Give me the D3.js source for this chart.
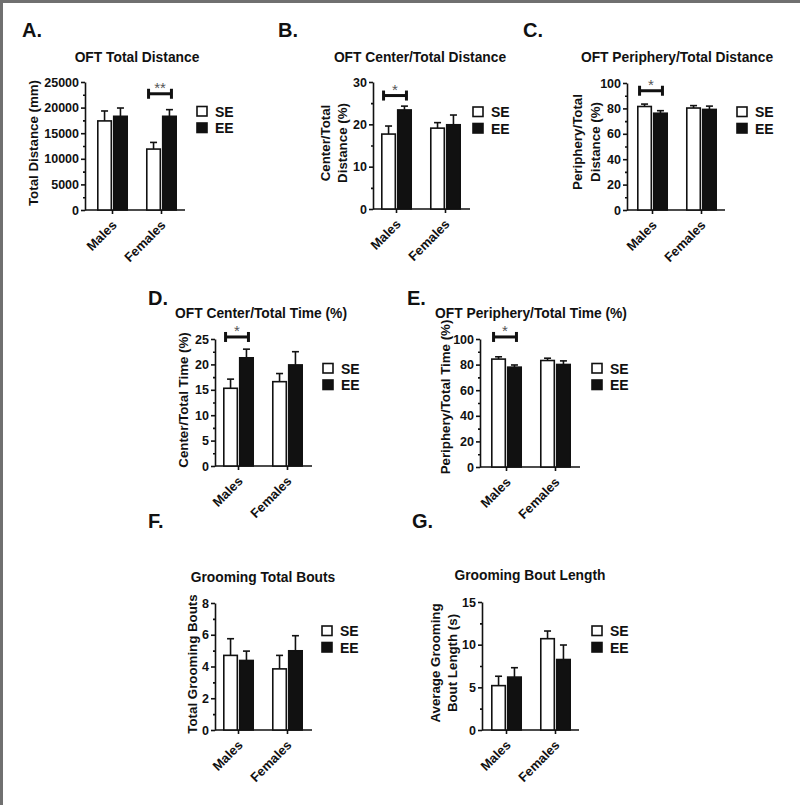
<!DOCTYPE html>
<html><head><meta charset="utf-8">
<script src="https://cdn.jsdelivr.net/npm/d3@7"></script>
<style>
html,body{margin:0;padding:0;background:#fff;}
text{font-family:"Liberation Sans",Arial,sans-serif;}
</style></head>
<body>
<script>
// ---------- DATA ----------
const categories = ["Males", "Females"];
const groups = ["SE", "EE"];

// A. OFT Total Distance (mm)
const distSE = [17400, 11900];
const distSEerr = [1940, 1300];
const distEE = [18300, 18300];
const distEEerr = [1620, 1300];
const distTicks = [0, 5000, 10000, 15000, 20000, 25000];

// B. OFT Center/Total Distance (%)
const cenDistSE = [17.7, 19.1];
const cenDistSEerr = [1.9, 1.3];
const cenDistEE = [23.4, 19.9];
const cenDistEEerr = [0.9, 2.3];
const cenDistTicks = [0, 10, 20, 30];

// C. OFT Periphery/Total Distance (%)
const perDistSE = [81.5, 80.3];
const perDistSEerr = [1.9, 1.9];
const perDistEE = [76.2, 79.2];
const perDistEEerr = [2.0, 2.6];
const perDistTicks = [0, 20, 40, 60, 80, 100];

// D. OFT Center/Total Time (%)
const cenTimeSE = [15.3, 16.6];
const cenTimeSEerr = [1.8, 1.6];
const cenTimeEE = [21.3, 19.9];
const cenTimeEEerr = [1.7, 2.6];
const cenTimeTicks = [0, 5, 10, 15, 20, 25];

// E. OFT Periphery/Total Time (%)
const perTimeSE = [84.3, 83.2];
const perTimeSEerr = [1.8, 1.8];
const perTimeEE = [78.0, 80.1];
const perTimeEEerr = [1.7, 2.8];
const perTimeTicks = [0, 20, 40, 60, 80, 100];

// F. Grooming Total Bouts
const boutsSE = [4.7, 3.85];
const boutsSEerr = [1.05, 0.85];
const boutsEE = [4.38, 4.99];
const boutsEEerr = [0.59, 0.95];
const boutsTicks = [0, 2, 4, 6, 8];

// G. Grooming Bout Length (s)
const lenSE = [5.2, 10.7];
const lenSEerr = [1.1, 0.9];
const lenEE = [6.2, 8.26];
const lenEEerr = [1.1, 1.7];
const lenTicks = [0, 5, 10, 15];

// significance brackets: [category index, level in data units, label]
const sigA = [1, 22700, "**"];
const sigB = [0, 26.8, "*"];
const sigC = [0, 93.9, "*"];
const sigD = [0, 25.4, "*"];
const sigE = [0, 101.6, "*"];

// ---------- DRAW ----------
const W = 800, H = 805;
const svg = d3.select("body").append("svg").attr("width", W).attr("height", H);
svg.append("rect").attr("width", W).attr("height", H).attr("fill", "#fff");
svg.append("rect").attr("x", 0).attr("y", 0).attr("width", W).attr("height", 3).attr("fill", "#707070");
svg.append("rect").attr("x", 0).attr("y", 0).attr("width", 3).attr("height", H).attr("fill", "#707070");

const INK = "#111";

function panel(cfg) {
  const g = svg.append("g");
  const y = d3.scaleLinear().domain([0, cfg.yMax]).range([cfg.y0, cfg.yTop]);
  const x = d3.scaleBand().domain(categories).range([cfg.barL, cfg.barL + 80]).paddingInner(0.367);
  const xi = d3.scaleBand().domain(groups).range([0, x.bandwidth()]).paddingInner(0.05);

  // panel letter
  g.append("text").attr("x", cfg.letter[0]).attr("y", cfg.letter[1])
    .attr("font-size", 20).attr("font-weight", "bold").attr("fill", INK).text(cfg.letterText);
  // title
  g.append("text").attr("x", cfg.title[0]).attr("y", cfg.title[1])
    .attr("text-anchor", "middle").attr("dominant-baseline", "central")
    .attr("font-size", 13.8).attr("font-weight", "bold").attr("fill", INK).text(cfg.titleText);

  // y-axis
  const ya = g.append("g").attr("transform", `translate(${cfg.axisX},0)`)
    .call(d3.axisLeft(y).tickValues(cfg.ticks).tickSize(4).tickSizeOuter(0).tickPadding(2)
      .tickFormat(d3.format("d")));
  const minor = d3.range(0, cfg.ticks.length - 1).map(i => (cfg.ticks[i] + cfg.ticks[i + 1]) / 2);
  const ym = g.append("g").attr("transform", `translate(${cfg.axisX},0)`)
    .call(d3.axisLeft(y).tickValues(minor).tickSize(2).tickFormat(""));
  ym.select(".domain").remove();
  [ya, ym].forEach(a => {
    a.selectAll("path,line").attr("stroke", INK).attr("stroke-width", 1.6);
  });
  ya.selectAll("text").attr("font-size", 12.5).attr("font-weight", "bold").attr("fill", INK)
    .attr("font-family", "Liberation Sans, Arial, sans-serif");

  // y-axis label (one or two lines)
  cfg.yLabel.forEach((t, i) => {
    g.append("text")
      .attr("transform", `translate(${cfg.yLabelX[i]},${cfg.yLabelY}) rotate(-90)`)
      .attr("text-anchor", "middle").attr("dominant-baseline", "central")
      .attr("font-size", 13.3).attr("font-weight", "bold").attr("fill", INK).text(t);
  });

  // x-axis
  const xa = g.append("g").attr("transform", `translate(0,${cfg.y0})`)
    .call(d3.axisBottom(x).tickSize(4).tickSizeOuter(0).tickFormat(""));
  xa.select(".domain").remove();
  xa.selectAll("line").attr("stroke", INK).attr("stroke-width", 1.6);
  g.append("line").attr("x1", cfg.axisX).attr("x2", cfg.axisEnd)
    .attr("y1", cfg.y0).attr("y2", cfg.y0).attr("stroke", INK).attr("stroke-width", 1.6);
  categories.forEach(c => {
    const cx = x(c) + x.bandwidth() / 2;
    g.append("text").attr("transform", `translate(${cx + 5},${cfg.y0 + 16}) rotate(-45)`)
      .attr("text-anchor", "end").attr("font-size", 13).attr("font-weight", "bold")
      .attr("fill", INK).text(c);
  });

  // bars
  const rows = [];
  categories.forEach((c, ci) => {
    groups.forEach((s, si) => {
      rows.push({ c, s, v: cfg.vals[si][ci], e: cfg.errs[si][ci] });
    });
  });
  const bx = d => x(d.c) + xi(d.s);
  const bw = xi.bandwidth();
  // error bars (upward only)
  g.selectAll(".err").data(rows).join("line")
    .attr("x1", d => bx(d) + bw / 2).attr("x2", d => bx(d) + bw / 2)
    .attr("y1", d => y(d.v)).attr("y2", d => y(d.v + d.e))
    .attr("stroke", INK).attr("stroke-width", 1.6);
  g.selectAll(".cap").data(rows).join("line")
    .attr("x1", d => bx(d) + bw / 2 - 3.5).attr("x2", d => bx(d) + bw / 2 + 3.5)
    .attr("y1", d => y(d.v + d.e)).attr("y2", d => y(d.v + d.e))
    .attr("stroke", INK).attr("stroke-width", 1.6);
  g.selectAll(".bar").data(rows).join("rect")
    .attr("x", d => bx(d) + 0.8).attr("width", bw - 1.6)
    .attr("y", d => y(d.v)).attr("height", d => cfg.y0 - y(d.v))
    .attr("fill", d => d.s === "SE" ? "#fff" : INK)
    .attr("stroke", INK).attr("stroke-width", 1.6);

  // significance bracket
  if (cfg.sig) {
    const [ci, lvl, lab] = cfg.sig;
    const c = categories[ci];
    const xa1 = x(c) + xi("SE") + bw / 2 - 5;
    const xa2 = x(c) + xi("EE") + bw / 2 + 2;
    const yy = y(lvl);
    g.append("line").attr("x1", xa1).attr("x2", xa2).attr("y1", yy).attr("y2", yy)
      .attr("stroke", INK).attr("stroke-width", 3);
    [xa1, xa2].forEach(xx => g.append("line").attr("x1", xx).attr("x2", xx)
      .attr("y1", yy - 5).attr("y2", yy + 5).attr("stroke", INK).attr("stroke-width", 3));
    g.append("text").attr("x", (xa1 + xa2) / 2).attr("y", yy - 1)
      .attr("text-anchor", "middle").attr("font-size", 15).attr("fill", "#555").text(lab);
  }

  // legend
  groups.forEach((s, i) => {
    const ly = cfg.legend[1] + i * 16.5;
    g.append("rect").attr("x", cfg.legend[0]).attr("y", ly).attr("width", 10).attr("height", 9.5)
      .attr("fill", s === "SE" ? "#fff" : INK).attr("stroke", INK).attr("stroke-width", 1.6);
    g.append("text").attr("x", cfg.legend[0] + 18).attr("y", ly + 5)
      .attr("dominant-baseline", "central").attr("font-size", 14).attr("font-weight", "bold")
      .attr("fill", INK).text(s);
  });
}

panel({ letterText: "A.", letter: [22, 37], titleText: "OFT Total Distance", title: [137, 57],
  yMax: 25000, y0: 210, yTop: 82, axisX: 85, axisEnd: 185, barL: 97, ticks: distTicks,
  yLabel: ["Total Distance (mm)"], yLabelX: [33], yLabelY: 143,
  vals: [distSE, distEE], errs: [distSEerr, distEEerr], sig: sigA, legend: [197, 106.5] });

panel({ letterText: "B.", letter: [278, 37], titleText: "OFT Center/Total Distance", title: [420, 57],
  yMax: 30, y0: 209, yTop: 82, axisX: 373, axisEnd: 470, barL: 381, ticks: cenDistTicks,
  yLabel: ["Center/Total", "Distance (%)"], yLabelX: [325, 342], yLabelY: 143,
  vals: [cenDistSE, cenDistEE], errs: [cenDistSEerr, cenDistEEerr], sig: sigB, legend: [473, 107] });

panel({ letterText: "C.", letter: [523, 37], titleText: "OFT Periphery/Total Distance", title: [677, 57],
  yMax: 100, y0: 210, yTop: 83, axisX: 627, axisEnd: 725, barL: 637, ticks: perDistTicks,
  yLabel: ["Periphery/Total", "Distance (%)"], yLabelX: [577, 595], yLabelY: 142,
  vals: [perDistSE, perDistEE], errs: [perDistSEerr, perDistEEerr], sig: sigC, legend: [737, 107] });

panel({ letterText: "D.", letter: [148, 305], titleText: "OFT Center/Total Time (%)", title: [261, 313],
  yMax: 25, y0: 466, yTop: 339, axisX: 215, axisEnd: 312, barL: 223, ticks: cenTimeTicks,
  yLabel: ["Center/Total Time (%)"], yLabelX: [183], yLabelY: 400,
  vals: [cenTimeSE, cenTimeEE], errs: [cenTimeSEerr, cenTimeEEerr], sig: sigD, legend: [323, 363.5] });

panel({ letterText: "E.", letter: [407, 305], titleText: "OFT Periphery/Total Time (%)", title: [531, 313],
  yMax: 100, y0: 467, yTop: 339, axisX: 480, axisEnd: 580, barL: 491, ticks: perTimeTicks,
  yLabel: ["Periphery/Total Time (%)"], yLabelX: [445], yLabelY: 397,
  vals: [perTimeSE, perTimeEE], errs: [perTimeSEerr, perTimeEEerr], sig: sigE, legend: [592, 363.5] });

panel({ letterText: "F.", letter: [148, 528], titleText: "Grooming Total Bouts", title: [263, 577],
  yMax: 8, y0: 730, yTop: 603, axisX: 215, axisEnd: 312, barL: 223, ticks: boutsTicks,
  yLabel: ["Total Grooming Bouts"], yLabelX: [192], yLabelY: 664,
  vals: [boutsSE, boutsEE], errs: [boutsSEerr, boutsEEerr], sig: null, legend: [322, 626] });

panel({ letterText: "G.", letter: [412, 528], titleText: "Grooming Bout Length", title: [530, 575],
  yMax: 15, y0: 730, yTop: 602, axisX: 482, axisEnd: 579, barL: 491, ticks: lenTicks,
  yLabel: ["Average Grooming", "Bout Length (s)"], yLabelX: [435, 452], yLabelY: 663,
  vals: [lenSE, lenEE], errs: [lenSEerr, lenEEerr], sig: null, legend: [592, 626] });
</script>
</body></html>
